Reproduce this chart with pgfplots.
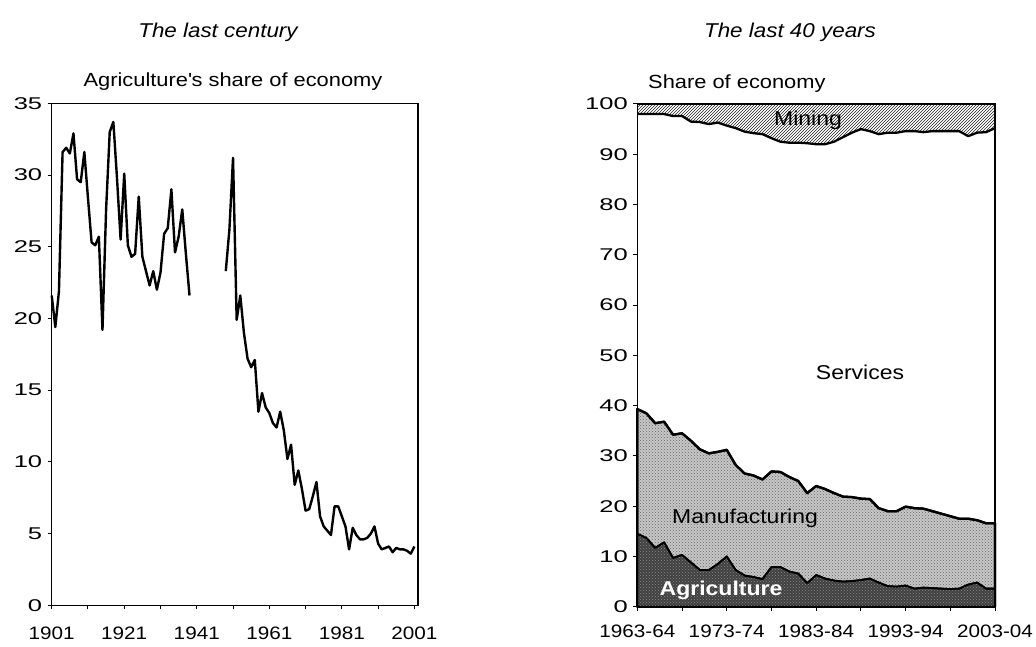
\documentclass[border=0pt]{standalone}
\usepackage{pgfplots}
\pgfplotsset{compat=1.18}
\usetikzlibrary{patterns}
\usepackage{fontspec}
\setmainfont[FakeStretch=1.15]{Liberation Sans}
\newfontfamily\yfont[FakeStretch=1.5]{Liberation Sans}
\newfontfamily\titlefont[FakeStretch=1.12, UprightFont={* Italic}, ItalicFont={* Italic}]{Liberation Sans}
\newcommand\fs[1]{\fontsize{#1}{#1}\selectfont}

\pgfplotstableread{
yr v
1901 21.6
1902 19.4
1903 21.9
1904 31.6
1905 31.9
1906 31.5
1907 32.9
1908 29.7
1909 29.5
1910 31.6
1911 28.4
1912 25.3
1913 25.1
1914 25.7
1915 19.2
1916 27.6
1917 33.0
1918 33.7
1919 29.8
1920 25.5
1921 30.1
1922 25.1
1923 24.3
1924 24.5
1925 28.5
1926 24.3
1927 23.3
1928 22.3
1929 23.3
1930 22.0
1931 23.2
1932 25.9
1933 26.3
1934 29.0
1935 24.6
1936 25.7
1937 27.6
1938 24.5
1939 21.6
}\agriA

\pgfplotstableread{
yr v
1949 23.3
1950 26.2
1951 31.2
1952 19.9
1953 21.6
1954 19.0
1955 17.2
1956 16.6
1957 17.1
1958 13.5
1959 14.8
1960 13.8
1961 13.4
1962 12.7
1963 12.4
1964 13.5
1965 12.2
1966 10.2
1967 11.2
1968 8.4
1969 9.4
1970 8.1
1971 6.6
1972 6.7
1973 7.6
1974 8.6
1975 6.2
1976 5.5
1977 5.2
1978 4.9
1979 6.9
1980 6.9
1981 6.2
1982 5.5
1983 3.9
1984 5.4
1985 4.9
1986 4.6
1987 4.6
1988 4.7
1989 5.0
1990 5.5
1991 4.3
1992 3.9
1993 4.0
1994 4.1
1995 3.7
1996 4.0
1997 3.9
1998 3.9
1999 3.8
2000 3.6
2001 4.1
}\agriB

\pgfplotstableread{
i agri manuf serv
0 14.5 39.3 98.0
1 13.7 38.5 98.0
2 11.7 36.5 98.0
3 12.8 36.8 98.0
4 9.7 34.2 97.6
5 10.3 34.5 97.6
6 8.8 33.0 96.5
7 7.3 31.3 96.4
8 7.3 30.5 96.0
9 8.5 30.8 96.3
10 10.0 31.2 95.7
11 7.3 28.2 95.2
12 6.2 26.5 94.5
13 5.9 26.1 94.2
14 5.5 25.3 94.0
15 7.9 26.9 93.2
16 7.9 26.8 92.5
17 7.0 25.8 92.3
18 6.6 25.0 92.3
19 4.7 22.6 92.2
20 6.3 24.0 92.0
21 5.6 23.4 92.0
22 5.2 22.6 92.5
23 5.0 21.9 93.4
24 5.1 21.8 94.3
25 5.3 21.5 95.0
26 5.6 21.4 94.6
27 4.8 19.6 94.0
28 4.1 19.0 94.3
29 4.0 19.0 94.3
30 4.2 19.9 94.6
31 3.6 19.6 94.6
32 3.8 19.5 94.4
33 3.7 19.0 94.6
34 3.6 18.5 94.6
35 3.5 18.0 94.6
36 3.6 17.5 94.6
37 4.4 17.5 93.6
38 4.8 17.2 94.3
39 3.6 16.6 94.4
40 3.6 16.6 95.2
}\shares

\begin{document}
\begin{tikzpicture}
\path[use as bounding box] (0,0) rectangle (1036pt,646pt);

\pgfplotsset{
  common/.style={
    scale only axis,
    anchor=south west,
    tick align=outside,
    major tick length=4pt,
    xtick pos=bottom, ytick pos=left,
    axis line style={line width=1.3pt, black},
    tick style={line width=1pt, black},
    /pgf/number format/assume math mode=true,
    /pgf/number format/1000 sep={},
    yticklabel style={font=\yfont\fs{17}, xshift=-2pt},
    axis on top,
    clip=false,
  }
}

\begin{axis}[common,
  width=366.3pt, height=502pt, at={(51.7pt,40.7pt)},
  xmin=1901, xmax=2002, ymin=0, ymax=35,
  xtick={1901,1911,...,2001},
  xticklabels={1901,,1921,,1941,,1961,,1981,,2001},
  xticklabel style={font=\fs{18}, yshift=-14pt},
  ytick={0,5,...,35},
]
\addplot[black, line width=2.4pt, line join=round] table[x=yr, y=v] {\agriA};
\addplot[black, line width=2.4pt, line join=round] table[x=yr, y=v] {\agriB};
\end{axis}

\begin{axis}[common,
  width=357.7pt, height=502.7pt, at={(637.3pt,39.3pt)},
  xmin=0, xmax=40, ymin=0, ymax=100,
  xtick={0,5,...,40},
  xticklabels={1963-64,,1973-74,,1983-84,,1993-94,,2003-04},
  xticklabel style={font=\fs{18}, yshift=-11pt},
  ytick={0,10,...,100},
  axis background/.style={fill=white, postaction={pattern=north east lines, pattern color=black!85}},
]
\addplot[fill=white, draw=none] table[x=i, y=serv] {\shares} \closedcycle;
\addplot[black, line width=2.3pt, line join=round] table[x=i, y=serv] {\shares};
\addplot[fill=black!22, postaction={pattern=crosshatch dots, pattern color=black!60}, draw=black, line width=2.3pt, line join=round] table[x=i, y=manuf] {\shares} \closedcycle;
\addplot[fill=black!75, postaction={pattern=crosshatch dots, pattern color=black!45}, draw=black, line width=1.8pt, line join=round] table[x=i, y=agri] {\shares} \closedcycle;
\end{axis}

\node[font=\titlefont\fs{20}, anchor=base, inner sep=0pt] at (218pt,608pt) {The last century};
\node[font=\titlefont\fs{20}, anchor=base, inner sep=0pt] at (790pt,608pt) {The last 40 years};
\node[font=\fs{19}, anchor=base] at (233pt,559.5pt) {Agriculture\textquotesingle s share of economy};
\node[font=\fs{19}, anchor=base west, inner sep=0pt] at (648pt,557pt) {Share of economy};
\node[font=\fs{20}, anchor=base, inner sep=0pt] at (808pt,520pt) {Mining};
\node[font=\fs{20}, anchor=base, inner sep=0pt] at (860pt,266pt) {Services};
\node[font=\fs{20}, anchor=base, inner sep=0pt] at (745pt,122.7pt) {Manufacturing};
\node[font=\bfseries\fs{20}, anchor=base, inner sep=0pt, text=white] at (721pt,51pt) {Agriculture};
\end{tikzpicture}
\end{document}
